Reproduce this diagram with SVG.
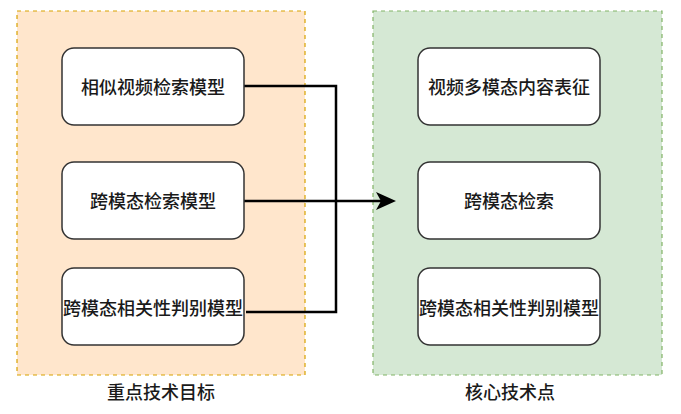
<svg xmlns="http://www.w3.org/2000/svg" width="681" height="414" viewBox="0 0 681 414">
<defs>
<style>
.node rect{fill:#ffffff;stroke:#333333;stroke-width:1.5}
.txt{font-family:"Noto Sans CJK SC","Noto Sans",sans-serif;font-size:18px;font-weight:500;fill:#1a1a1a;text-anchor:middle;dominant-baseline:central}
.conn{fill:none;stroke:#000000;stroke-width:2.5}
</style>
</defs>
<rect width="681" height="414" fill="#ffffff"/>
<g id="group-left">
<rect x="17" y="11" width="288" height="364" fill="#ffe6cc" stroke="#d7a200" stroke-width="1.2" stroke-dasharray="4 4"/>
<text class="txt" x="161" y="391">重点技术目标</text>
</g>
<g id="group-right">
<rect x="373" y="11" width="289" height="364" fill="#d5e8d4" stroke="#82b366" stroke-width="1.2" stroke-dasharray="4 4"/>
<text class="txt" x="510" y="391">核心技术点</text>
</g>
<g id="connectors">
<polyline class="conn" points="244,86 336,86 336,312 246,312"/>
<line class="conn" x1="244" y1="201" x2="385" y2="201"/>
<path d="M376,192 L396,201 L376,210 L381,201 Z" fill="#000000"/>
</g>
<g id="n1" class="node"><rect x="62" y="48" width="182" height="77" rx="12"/><text class="txt" x="153" y="86">相似视频检索模型</text></g>
<g id="n2" class="node"><rect x="62" y="162" width="182" height="77" rx="12"/><text class="txt" x="153" y="200">跨模态检索模型</text></g>
<g id="n3" class="node"><rect x="62" y="268" width="182" height="77" rx="12"/><text class="txt" x="153" y="307">跨模态相关性判别模型</text></g>
<g id="n4" class="node"><rect x="418" y="48" width="182" height="77" rx="12"/><text class="txt" x="509" y="86">视频多模态内容表征</text></g>
<g id="n5" class="node"><rect x="418" y="162" width="182" height="77" rx="12"/><text class="txt" x="509" y="200">跨模态检索</text></g>
<g id="n6" class="node"><rect x="418" y="268" width="182" height="77" rx="12"/><text class="txt" x="509" y="307">跨模态相关性判别模型</text></g>
</svg>
